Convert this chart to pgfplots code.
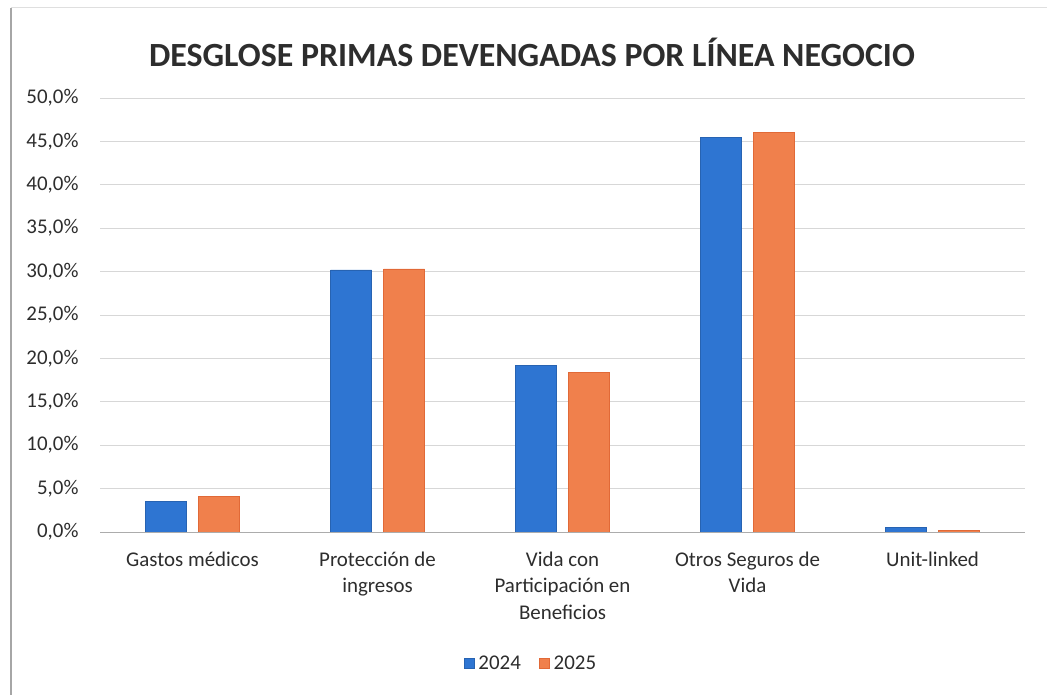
\documentclass[border=0pt]{standalone}
\usepackage{pgfplots}
\pgfplotsset{compat=1.18}
\usepackage{fontspec}
\setmainfont{Carlito}
\definecolor{cblue}{RGB}{46,117,210}
\definecolor{corange}{RGB}{240,128,76}
\definecolor{corangeedge}{RGB}{225,105,55}
\definecolor{ctext}{RGB}{45,45,45}
\definecolor{cgrid}{RGB}{215,215,215}
\begin{document}
\begin{tikzpicture}[x=1bp,y=1bp]
\path[use as bounding box] (0,0) rectangle (1047,695);
\draw[gray!70,line width=1.2bp] (11,0) -- (11,687);
\draw[gray!25,line width=1bp] (11,687) -- (1047,687);
\begin{axis}[
  at={(100bp,163bp)}, anchor=south west,
  scale only axis, width=925bp, height=434bp,
  ybar=12bp, bar width=41bp,
  xmin=-0.5, xmax=4.5, ymin=0, ymax=50,
  xtick={0,1,2,3,4},
  xticklabels={Gastos médicos,Protección de\\ingresos,Vida con\\Participación en\\Beneficios,Otros Seguros de\\Vida,Unit-linked},
  xticklabel style={align=center, font=\fontsize{21}{27}\selectfont, text=ctext, yshift=-16bp},
  ytick={0,5,...,50},
  yticklabels={0{,}0\%,5{,}0\%,10{,}0\%,15{,}0\%,20{,}0\%,25{,}0\%,30{,}0\%,35{,}0\%,40{,}0\%,45{,}0\%,50{,}0\%},
  yticklabel style={font=\fontsize{21}{25}\selectfont, text=ctext, xshift=-18bp},
  major tick length=0pt,
  ymajorgrids, grid style={cgrid, line width=0.8bp},
  axis x line*=bottom, axis y line*=left,
  y axis line style={draw=none},
  x axis line style={draw=cgrid!80!black, line width=0.8bp, -},
  legend style={at={(0.467,-0.303)}, anchor=center, draw=none, legend columns=2,
    font=\fontsize{21}{25}\selectfont, text=ctext,
    /tikz/every even column/.append style={column sep=14bp},
    /tikz/every odd column/.append style={column sep=0bp}},
  legend image code/.code={\fill[#1] (0bp,-5bp) rectangle (10bp,5bp);},
  legend cell align=left,
  legend style={nodes={inner xsep=4bp}},
  title={\bfseries DESGLOSE PRIMAS DEVENGADAS POR LÍNEA NEGOCIO},
  title style={font=\fontsize{34}{38}\selectfont, text=ctext, at={(0.467,1)}, yshift=22bp},
]
\addplot[fill=cblue, draw=cblue!85!black, line width=0.6bp] coordinates {(0,3.5) (1,30.2) (2,19.2) (3,45.5) (4,0.5)};
\addplot[fill=corange, draw=corangeedge, line width=0.8bp] coordinates {(0,4.1) (1,30.3) (2,18.4) (3,46.0) (4,0.15)};
\legend{2024,2025}
\end{axis}
\end{tikzpicture}
\end{document}
